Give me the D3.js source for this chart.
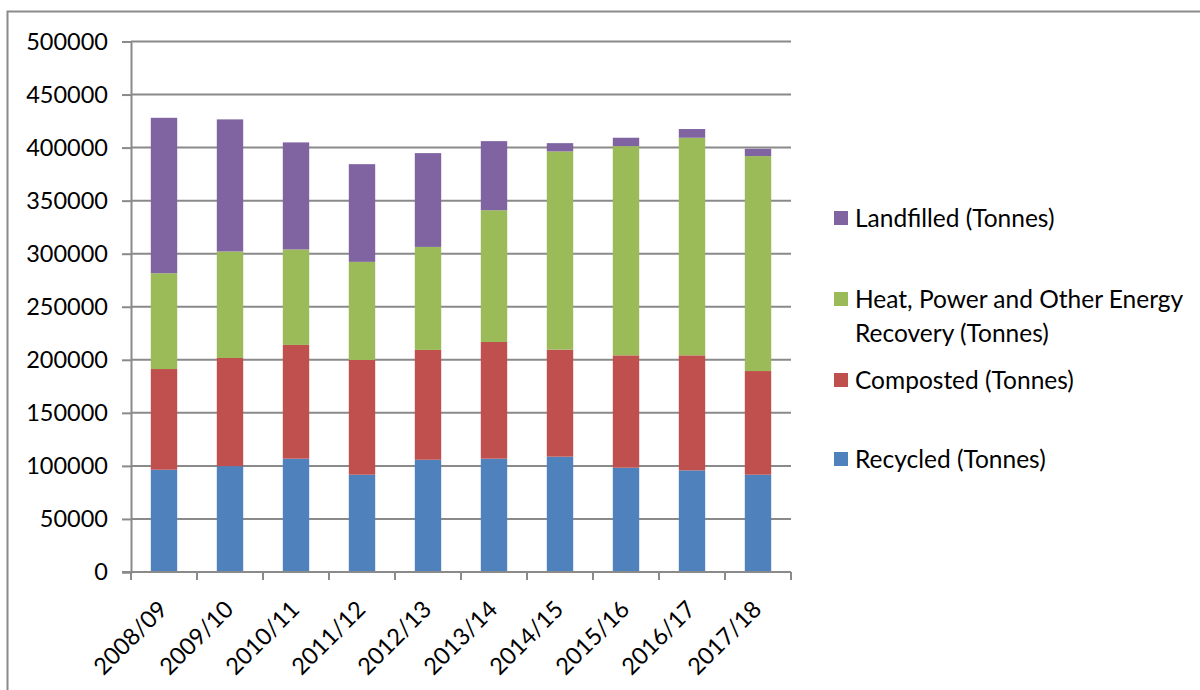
<!DOCTYPE html>
<html><head><meta charset="utf-8">
<script src="https://cdn.jsdelivr.net/npm/d3@7"></script>
<style>
html,body{margin:0;padding:0;background:#fff;}
svg text{font-family:Lato, "Open Sans", sans-serif;fill:#000;}
</style></head>
<body>
<svg id="chart" width="1200" height="690"></svg>
<script>
const categories = ["2008/09","2009/10","2010/11","2011/12","2012/13","2013/14","2014/15","2015/16","2016/17","2017/18"];
const recycled   = [96400, 99800, 106800, 91700, 105800, 106800, 108700, 98300, 95800, 91700];
const composted  = [94900, 101900, 107200, 108100, 103500, 110000, 100900, 105900, 108400, 97700];
const heatPower  = [90300, 100400, 90000, 92500, 97100, 124200, 186800, 197200, 205100, 202600];
const landfilled = [146500, 124500, 100900, 92100, 88400, 65100, 7800, 7900, 8200, 6900];
const seriesNames = ["Recycled (Tonnes)","Composted (Tonnes)","Heat, Power and Other Energy Recovery (Tonnes)","Landfilled (Tonnes)"];
const seriesColors = ["#4F81BD","#C0504D","#9BBB59","#8064A2"];
const yTicks = [0,50000,100000,150000,200000,250000,300000,350000,400000,450000,500000];

(function(){
const svg = d3.select("#chart");
const keys = ["recycled","composted","heat","landfilled"];
const table = categories.map((c,i)=>({cat:c, recycled:recycled[i], composted:composted[i], heat:heatPower[i], landfilled:landfilled[i]}));
const stack = d3.stack().keys(keys)(table);

const pl=131, pr=791, pt=41.5, pb=572;
const x = d3.scaleBand().domain(categories).range([pl,pr]).paddingInner(0.6).paddingOuter(0.3);
const xb = d3.scaleBand().domain(categories).range([pl,pr]);
const y = d3.scaleLinear().domain([0,500000]).range([pb,pt]);
const grid = "#8a8a8a";

// outer frame
svg.append("path").attr("d","M7.5,690 V11.5 H1200").attr("fill","none").attr("stroke",grid).attr("stroke-width",2);

// gridlines
svg.append("g").selectAll("line").data(yTicks.filter(d=>d>0)).join("line")
  .attr("x1",pl).attr("x2",pr).attr("y1",d=>y(d)).attr("y2",d=>y(d))
  .attr("stroke",grid).attr("stroke-width",2);

// bars
svg.append("g").selectAll("g").data(stack).join("g")
  .attr("fill",(d,i)=>seriesColors[i])
  .selectAll("rect").data(d=>d).join("rect")
  .attr("x",d=>x(d.data.cat)).attr("width",x.bandwidth())
  .attr("y",d=>y(d[1])).attr("height",d=>y(d[0])-y(d[1]));

// y axis
const yAxis = d3.axisLeft(y).tickValues(yTicks).tickFormat(d3.format("d")).tickSize(9).tickPadding(14);
const gy = svg.append("g").attr("transform",`translate(${pl},0)`).call(yAxis);
gy.select(".domain").attr("stroke",grid).attr("stroke-width",2);
gy.selectAll(".tick line").attr("stroke",grid).attr("stroke-width",2);
gy.selectAll(".tick text").attr("font-size",23.5).attr("font-family","Lato").attr("fill","#000");

// x axis
const gx = svg.append("g").attr("transform",`translate(0,${pb})`);
gx.append("line").attr("x1",pl-9).attr("x2",pr).attr("stroke",grid).attr("stroke-width",2);
const bounds = categories.map(c=>xb(c)).concat([pr]);
gx.selectAll("line.tk").data(bounds).join("line").attr("class","tk")
  .attr("x1",d=>d).attr("x2",d=>d).attr("y1",0).attr("y2",8).attr("stroke",grid).attr("stroke-width",2);
gx.selectAll("text").data(categories).join("text")
  .attr("transform",d=>`translate(${xb(d)+xb.bandwidth()/2-1},${33}) rotate(-45)`)
  .attr("text-anchor","end").attr("dy","0.35em").attr("font-size",23.5).text(d=>d);

// legend
const legendItems = [
  {i:3, lines:["Landfilled (Tonnes)"], y:218},
  {i:2, lines:["Heat, Power and Other Energy","Recovery (Tonnes)"], y:299},
  {i:1, lines:["Composted (Tonnes)"], y:380},
  {i:0, lines:["Recycled (Tonnes)"], y:459}
];
const lg = svg.append("g");
legendItems.forEach(it=>{
  lg.append("rect").attr("x",834).attr("y",it.y-7).attr("width",14).attr("height",14).attr("fill",seriesColors[it.i]);
  const t = lg.append("text").attr("x",855).attr("y",it.y).attr("font-size",24.5);
  it.lines.forEach((l,k)=>t.append("tspan").attr("x",855).attr("dy",k===0?"0.35em":"34").text(l));
});
})();
</script>
</body></html>
